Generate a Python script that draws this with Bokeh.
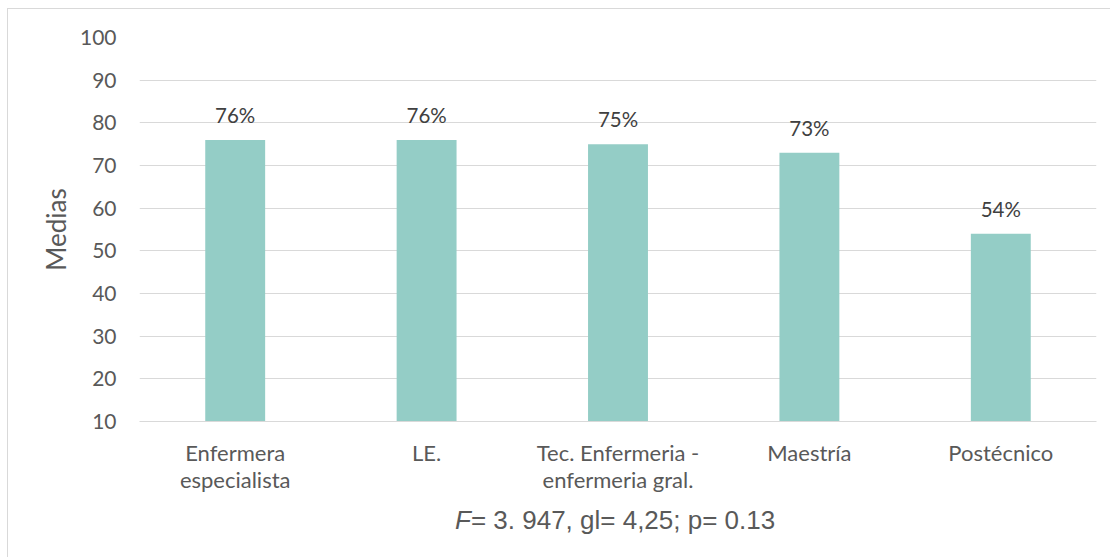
from bokeh.plotting import figure
from bokeh.models import FixedTicker, ColumnDataSource, Range1d, Div
from bokeh.layouts import column
from bokeh.core.properties import value
from bokeh.embed import file_html
from bokeh.resources import INLINE

categories = ["Enfermera\nespecialista", "LE.", "Tec. Enfermeria -\nenfermeria gral.", "Maestría", "Postécnico"]
values = [76, 76, 75, 73, 54]
value_labels = ["76%", "76%", "75%", "73%", "54%"]
y_ticks = [10, 20, 30, 40, 50, 60, 70, 80, 90, 100]
stat_italic = "F"
stat_rest = "= 3. 947, gl= 4,25; p= 0.13"

BAR = "#94CDC6"
GRID = "#D9D9D9"
TICK = "#595959"
FONT = "Lato"

src = ColumnDataSource(dict(cat=categories, val=values, lab=value_labels))

p = figure(x_range=categories, y_range=Range1d(10, 100), width=1102, height=496,
           output_backend="svg", toolbar_location=None,
           min_border_left=131, min_border_right=14, min_border_top=28, min_border_bottom=84,
           margin=0)
p.outline_line_color = None
p.background_fill_color = "white"
p.border_fill_color = "white"

p.vbar(x="cat", top="val", bottom=0, width=0.313, source=src, fill_color=BAR, line_color=None)
p.text(x="cat", y="val", text="lab", source=src, text_align="center", text_baseline="middle",
       y_offset=-25, text_font=value(FONT), text_font_size="20.5px", text_color="#404040")

p.yaxis.ticker = FixedTicker(ticks=y_ticks)
p.yaxis.axis_line_color = None
p.yaxis.major_tick_line_color = None
p.yaxis.minor_tick_line_color = None
p.yaxis.major_label_text_font = FONT
p.yaxis.major_label_text_font_size = "21px"
p.yaxis.major_label_text_color = TICK
p.yaxis.major_label_standoff = 17
p.yaxis.axis_label = "Medias"
p.yaxis.axis_label_text_font = FONT
p.yaxis.axis_label_text_font_size = "26px"
p.yaxis.axis_label_text_font_style = "normal"
p.yaxis.axis_label_text_color = TICK
p.yaxis.axis_label_standoff = 5

p.xaxis.axis_line_color = GRID
p.xaxis.axis_line_width = 1
p.xaxis.major_tick_line_color = None
p.xaxis.minor_tick_line_color = None
p.xaxis.major_label_text_font = FONT
p.xaxis.major_label_text_font_size = "22px"
p.xaxis.major_label_text_line_height = 1.0
p.xaxis.major_label_text_color = TICK
p.xaxis.major_label_standoff = 11

p.xgrid.grid_line_color = None
p.ygrid.grid_line_color = GRID
p.ygrid.grid_line_width = 1

stat = Div(text=f"<i>{stat_italic}</i>{stat_rest}", width=1102, height=52, margin=0,
           styles={"font-family": "'Liberation Sans', Arial, sans-serif", "font-size": "26px",
                   "color": TICK, "padding-left": "447px", "line-height": "30px",
                   "white-space": "nowrap", "box-sizing": "border-box"})

layout = column(p, stat, margin=(8, 0, 0, 7), spacing=0,
                styles={"border-left": "1px solid #D9D9D9", "border-top": "1px solid #D9D9D9",
                        "background-color": "white"})

open("out.html", "w").write(file_html(layout, INLINE))
